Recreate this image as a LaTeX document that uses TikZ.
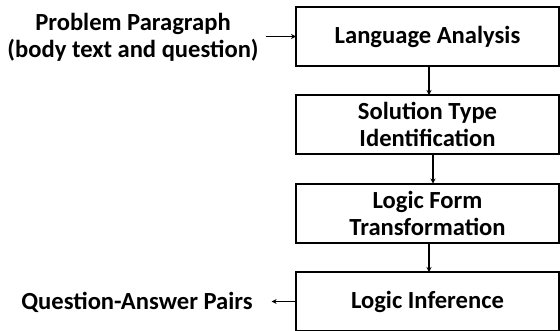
\documentclass[tikz,border=0pt]{standalone}
\usepackage{fontspec}
\setmainfont{Carlito}
\usetikzlibrary{arrows.meta}
\begin{document}
\begin{tikzpicture}[x=1pt,y=-1pt,
  stepbox/.style={draw=black, line width=2pt, minimum width=263pt, minimum height=59pt,
    inner sep=0pt, outer sep=0pt, align=center,
    font=\fontsize{24.6}{27}\selectfont\bfseries},
  lbl/.style={inner sep=0pt, outer sep=0pt, align=center, font=\fontsize{24.6}{27}\selectfont\bfseries},
  conn/.style={line width=1.6pt, -{Stealth[length=5pt,width=5pt]}},
]
\useasboundingbox (0,0) rectangle (560,330);
\node[stepbox] (b1) at (427.5,36.5) {Language Analysis};
\node[stepbox] (b2) at (427.5,124.5) {Solution Type\\Identification};
\node[stepbox] (b3) at (427.5,213) {Logic Form\\Transformation};
\node[stepbox] (b4) at (427.5,301.5) {Logic Inference};
\node[lbl] (pp) at (133,37) {Problem Paragraph\\(body text and question)};
\node[lbl] (qa) at (137,302) {Question-Answer Pairs};
\draw[conn] ([xshift=7pt]pp.east |- b1.west) -- (b1.west);
\draw[conn] ([xshift=1.5pt]b1.south) -- ([xshift=1.5pt]b2.north);
\draw[conn] ([xshift=5.5pt]b2.south) -- ([xshift=5.5pt]b3.north);
\draw[conn] ([xshift=1.5pt]b3.south) -- ([xshift=1.5pt]b4.north);
\draw[conn] (b4.west) -- ([xshift=19pt]qa.east |- b4.west);
\end{tikzpicture}
\end{document}
